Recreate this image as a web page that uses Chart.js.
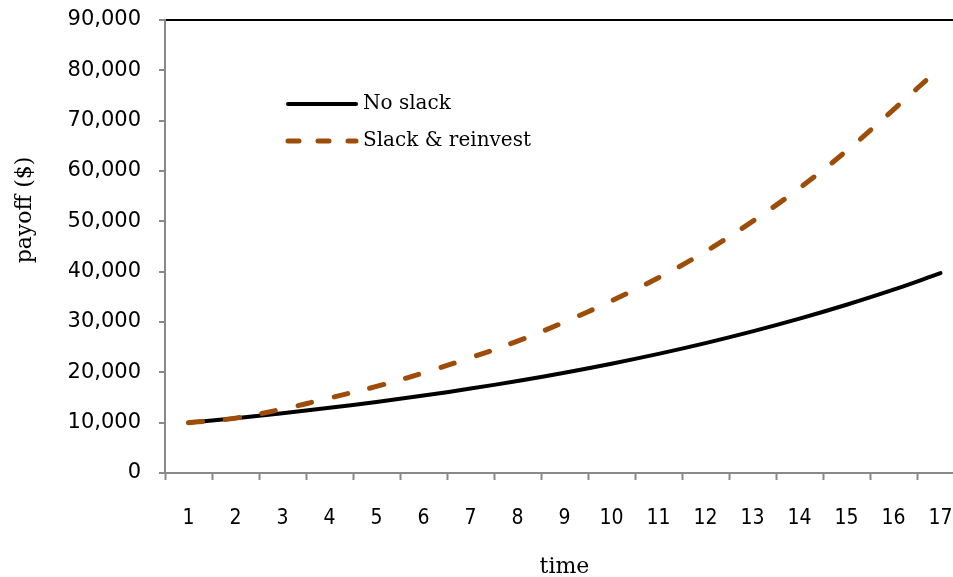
<!DOCTYPE html>
<html>
<head>
<meta charset="utf-8">
<script src="https://cdn.jsdelivr.net/npm/chart.js@4/dist/chart.umd.min.js"></script>
<style>
  html, body { margin: 0; padding: 0; overflow: hidden; background: #fff; }
  #frame { position: relative; width: 953px; height: 577px; overflow: hidden; }
  #payoffChart { position: absolute; left: 0; top: 0; display: block; }
</style>
</head>
<body>
<div id="frame"><canvas id="payoffChart" width="964" height="577"></canvas></div>
<script>
// periods on the x axis
const periods = ['1', '2', '3', '4', '5', '6', '7', '8', '9', '10', '11', '12', '13', '14', '15', '16', '17'];

// payoff values
const noSlack = [10000, 10900, 11880, 12950, 14120, 15390, 16770, 18280, 19930, 21720, 23670, 25800, 28130, 30660, 33420, 36420, 39700];
const slackReinvest = [10000, 10900, 12700, 14900, 17200, 19900, 22900, 26200, 30000, 34200, 38800, 44000, 50000, 56600, 64000, 72200, 80600];

const seriesNames = ['No slack', 'Slack & reinvest'];
const yTitle = 'payoff ($)';
const xTitle = 'time';

const axisGrey = '#898989';
const brown = '#9E4D08';
const serif = '"DejaVu Serif", serif';

// draws the y title and the in-plot legend
const overlayText = {
  id: 'overlayText',
  afterDraw(chart) {
    const ctx = chart.ctx;
    ctx.save();
    ctx.fillStyle = '#000';
    ctx.font = '22px ' + serif;
    ctx.textAlign = 'center';
    ctx.textBaseline = 'middle';
    ctx.translate(25, 210);
    ctx.rotate(-Math.PI / 2);
    ctx.fillText(yTitle, 0, 0);
    ctx.restore();

    const ds = chart.data.datasets;
    const rows = [104, 141];
    ctx.save();
    ctx.font = '20px ' + serif;
    ctx.textBaseline = 'middle';
    ctx.textAlign = 'left';
    rows.forEach((y, i) => {
      ctx.beginPath();
      ctx.lineCap = 'round';
      ctx.lineWidth = i === 0 ? 4 : 5;
      ctx.strokeStyle = ds[i].borderColor;
      ctx.setLineDash(i === 0 ? [] : [11, 19]);
      ctx.moveTo(288, y);
      ctx.lineTo(356, y);
      ctx.stroke();
      ctx.fillStyle = '#000';
      ctx.fillText(ds[i].label, 363, y);
    });
    ctx.restore();
  }
};

new Chart(document.getElementById('payoffChart'), {
  type: 'line',
  data: {
    labels: periods,
    datasets: [
      {
        label: seriesNames[0],
        data: noSlack,
        order: 2,
        borderColor: '#000',
        borderWidth: 4,
        pointRadius: 0,
        tension: 0.4,
        borderCapStyle: 'round',
        fill: false
      },
      {
        label: seriesNames[1],
        data: slackReinvest,
        order: 1, // drawn over the black line
        borderColor: brown,
        borderWidth: 5,
        borderDash: [14, 23],
        borderCapStyle: 'round',
        pointRadius: 0,
        tension: 0.4,
        fill: false
      }
    ]
  },
  options: {
    responsive: false,
    animation: false,
    layout: { padding: { left: 69, top: 20, right: 0, bottom: 0 } },
    plugins: {
      legend: { display: false },
      tooltip: { enabled: false }
    },
    scales: {
      x: {
        offset: true,
        // fixed height, no label overhang so the plot runs to the right edge
        afterFit: s => { s.height = 104; s.paddingLeft = 0; s.paddingRight = 0; },
        grid: {
          offset: true,
          drawOnChartArea: false,
          color: axisGrey,
          tickColor: axisGrey,
          tickLength: 7,
          tickWidth: 2
        },
        border: { color: axisGrey, width: 2 },
        ticks: {
          color: '#000',
          padding: 26,
          maxRotation: 0,
          font: { family: '"Liberation Sans Narrow", "DejaVu Sans Condensed", sans-serif', size: 21 }
        },
        title: {
          display: true,
          text: xTitle,
          color: '#000',
          font: { family: serif, size: 22 },
          padding: { top: 0, bottom: -3 }
        }
      },
      y: {
        min: 0,
        max: 90000,
        afterFit: s => { s.width = 96; s.paddingTop = 0; s.paddingBottom = 0; },
        grid: {
          color: c => c.tick && c.tick.value === 90000 ? '#000' : 'rgba(0,0,0,0)',
          lineWidth: c => c.tick && c.tick.value === 90000 ? 2 : 0,
          tickColor: axisGrey,
          tickLength: 6,
          tickWidth: 2
        },
        border: { color: axisGrey, width: 2 },
        ticks: {
          stepSize: 10000,
          color: '#000',
          padding: 18,
          font: { family: '"DejaVu Sans", sans-serif', size: 21 },
          callback: v => v.toLocaleString('en-US')
        }
      }
    }
  },
  plugins: [overlayText]
});
</script>
</body>
</html>
